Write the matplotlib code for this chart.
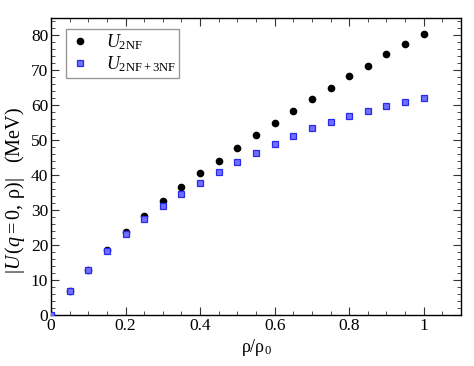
import matplotlib
matplotlib.use("Agg")
import matplotlib.pyplot as plt
from matplotlib.ticker import MultipleLocator

plt.rcParams['font.family'] = ['Liberation Serif', 'DejaVu Serif']
plt.rcParams['mathtext.fontset'] = 'custom'
plt.rcParams['mathtext.rm'] = 'Liberation Serif'
plt.rcParams['mathtext.it'] = 'Liberation Serif:italic'

rho = [0.0, 0.05, 0.10, 0.15, 0.20, 0.25, 0.30, 0.35, 0.40, 0.45, 0.50,
       0.55, 0.60, 0.65, 0.70, 0.75, 0.80, 0.85, 0.90, 0.95, 1.00]
u_2nf = [0.0, 7.0, 13.0, 18.7, 23.7, 28.4, 32.7, 36.7, 40.5, 44.2, 47.8,
         51.4, 54.9, 58.5, 61.8, 65.1, 68.3, 71.4, 74.6, 77.5, 80.5]
u_3nf = [0.0, 6.8, 12.9, 18.3, 23.1, 27.4, 31.2, 34.7, 37.9, 40.9, 43.7,
         46.4, 48.8, 51.1, 53.4, 55.2, 56.9, 58.5, 59.8, 61.0, 62.1]

fig = plt.figure(figsize=(4.74, 3.66), dpi=100)
ax = fig.add_axes([51/474, 1-315/366, 410/474, 297/366])

ax.plot(rho, u_2nf, 'o', color='black', ms=4.5, label=r'$U_{\rm 2NF}$', zorder=3)
ax.plot(rho, u_3nf, 's', mfc='#7070ff', mec='#2a2aee', mew=0.9, ms=3.8,
        label=r'$U_{\rm 2NF+3NF}$', zorder=4)

ax.set_xlim(0, 1.1)
ax.set_ylim(0, 85)
ax.xaxis.set_major_locator(MultipleLocator(0.2))
ax.xaxis.set_minor_locator(MultipleLocator(0.05))
ax.yaxis.set_major_locator(MultipleLocator(10))
ax.yaxis.set_minor_locator(MultipleLocator(2))
ax.set_xticks([0, 0.2, 0.4, 0.6, 0.8, 1.0])
ax.set_xticklabels(['0', '0.2', '0.4', '0.6', '0.8', '1'])
ax.tick_params(which='both', direction='in', top=True, right=True, labelsize=12.5, pad=2,
               color='#333333')
ax.tick_params(which='major', length=6, width=0.8)
ax.tick_params(which='minor', length=3, width=0.6)
for s in ax.spines.values():
    s.set_linewidth(1.0)

ax.set_xlabel(r'ρ/ρ$_0$', fontsize=13, labelpad=2)
ax.set_ylabel(r'$|U\,(q = 0,\,$ρ$)|$   (MeV)', fontsize=14.5)
ax.yaxis.set_label_coords(-24/410, 0.42)

leg = ax.legend(loc='upper left', bbox_to_anchor=(15/410, 1-11/297), borderaxespad=0,
                fontsize=13, frameon=True, fancybox=False,
                edgecolor='gray', handletextpad=0.8,
                labelspacing=0.12, borderpad=0.2, handlelength=1.2)
leg.get_frame().set_linewidth(1.0)

fig.savefig('out.png', dpi=100)
